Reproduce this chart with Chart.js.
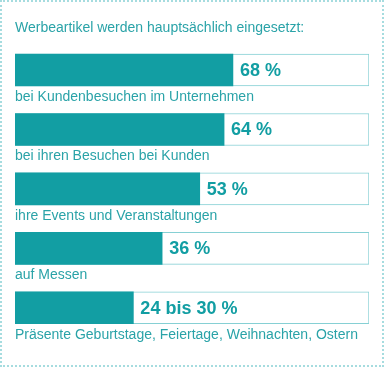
<!DOCTYPE html>
<html>
<head>
<meta charset="utf-8">
<script src="https://cdn.jsdelivr.net/npm/chart.js@4/dist/chart.umd.min.js"></script>
<style>
  html, body { margin: 0; padding: 0; background: #fff; }
  #wrap { position: relative; width: 384px; height: 367px; }
  #frame { position: absolute; left: 0; top: 0; width: 384px; height: 367px; box-sizing: border-box;
           border: 2px dotted #a6dcdf; pointer-events: none; }
  canvas { position: absolute; left: 0; top: 0; }
</style>
</head>
<body>
<div id="wrap">
  <canvas id="chart" width="384" height="367"></canvas>
  <div id="frame"></div>
</div>
<script>
const title = "Werbeartikel werden hauptsächlich eingesetzt:";
const categories = [
    "bei Kundenbesuchen im Unternehmen",
    "bei ihren Besuchen bei Kunden",
    "ihre Events und Veranstaltungen",
    "auf Messen",
    "Präsente Geburtstage, Feiertage, Weihnachten, Ostern"
];
const values = [68, 64, 53, 36, 23];
const valueLabels = ["68 %", "64 %", "53 %", "36 %", "24 bis 30 %"];

const axisMin = -30.5;
const axisMax = 129.5;
const teal = "#129ea3";
const textTeal = "#2aa3a8";

// labels under the bars and values next to the fill
const barTexts = {
    id: "barTexts",
    afterDraw(chart) {
        const ctx = chart.ctx;
        const xScale = chart.scales.x;
        const bars = chart.getDatasetMeta(0).data;
        ctx.save();
        for (let i = 0; i < bars.length; i++) {
            const bar = bars[i];
            const end = xScale.getPixelForValue(values[i]);
            const bottom = bar.y + bar.height / 2;
            ctx.font = "bold 18px 'Liberation Sans', Arial, sans-serif";
            ctx.fillStyle = teal;
            ctx.textAlign = "left";
            ctx.textBaseline = "middle";
            ctx.fillText(valueLabels[i], end + 7, bar.y + 1);

            ctx.font = "14px 'Liberation Sans', Arial, sans-serif";
            ctx.fillStyle = textTeal;
            ctx.textBaseline = "alphabetic";
            ctx.fillText(categories[i], chart.chartArea.left, bottom + 15);
        }
        ctx.restore();
    }
};

new Chart(document.getElementById("chart"), {
    type: "bar",
    data: {
        labels: categories,
        datasets: [
            {
                data: values.map(v => [axisMin, v]),
                backgroundColor: teal,
                borderWidth: 0,
                barThickness: 32,
                grouped: false
            },
            {
                data: values.map(() => [axisMin, axisMax]),
                backgroundColor: "#ffffff",
                borderColor: "#86d0d4",
                borderWidth: 1,
                borderSkipped: false,
                barThickness: 32,
                grouped: false
            }
        ]
    },
    options: {
        indexAxis: "y",
        responsive: false,
        animation: false,
        layout: { padding: { left: 15, right: 15, top: 0, bottom: 29.5 } },
        scales: {
            x: { display: false, min: axisMin, max: axisMax },
            y: { display: false }
        },
        plugins: {
            legend: { display: false },
            tooltip: { enabled: false },
            title: {
                display: true,
                text: title,
                align: "start",
                color: textTeal,
                font: { family: "'Liberation Sans', Arial, sans-serif", size: 14, weight: "normal" },
                padding: { top: 20, bottom: 3.5 }
            }
        }
    },
    plugins: [barTexts]
});
</script>
</body>
</html>
